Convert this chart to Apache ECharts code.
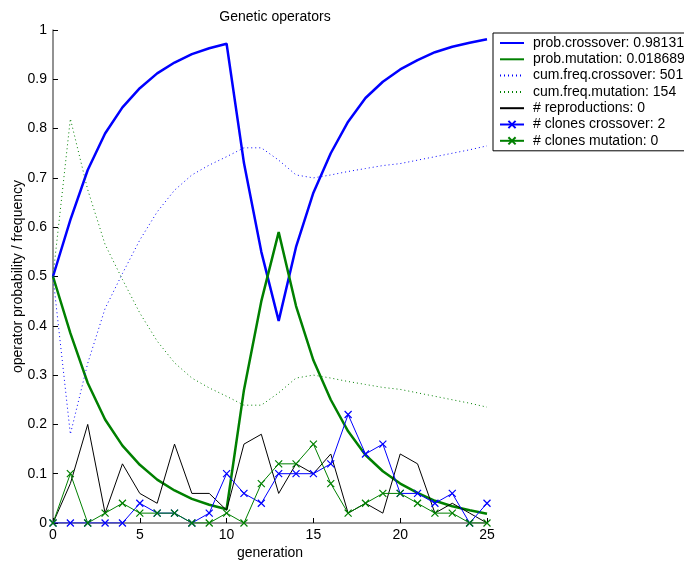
<!DOCTYPE html>
<html>
<head>
<meta charset="utf-8">
<script src="https://cdn.jsdelivr.net/npm/echarts@6/dist/echarts.min.js"></script>
<style>html,body{margin:0;padding:0;background:#fff;}#c{width:684px;height:564px;}</style>
</head>
<body>
<div id="c"></div>
<script>
var generations = [0,1,2,3,4,5,6,7,8,9,10,11,12,13,14,15,16,17,18,19,20,21,22,23,24,25];
var probCrossover = [0.5,0.615,0.716,0.79,0.843,0.882,0.912,0.934,0.951,0.963,0.972,0.73,0.55,0.41,0.56,0.67,0.75,0.814,0.862,0.895,0.92,0.939,0.955,0.966,0.974,0.98131];
var probMutation = [0.5,0.385,0.284,0.21,0.157,0.118,0.088,0.066,0.049,0.037,0.028,0.27,0.45,0.59,0.44,0.33,0.25,0.186,0.138,0.105,0.08,0.061,0.045,0.034,0.026,0.018689];
var cumFreqCrossover = [0.5,0.18,0.324,0.435,0.506,0.574,0.631,0.675,0.706,0.726,0.743,0.761,0.761,0.736,0.706,0.70,0.706,0.713,0.719,0.725,0.729,0.736,0.743,0.75,0.757,0.765];
var cumFreqMutation = [0.5,0.82,0.676,0.565,0.494,0.426,0.369,0.325,0.294,0.274,0.257,0.239,0.239,0.264,0.294,0.30,0.294,0.287,0.281,0.275,0.271,0.264,0.257,0.25,0.243,0.235];
var reproductions = [0,0.08,0.2,0.02,0.12,0.06,0.04,0.16,0.06,0.06,0.026,0.16,0.18,0.06,0.12,0.10,0.14,0.02,0.04,0.02,0.14,0.12,0.02,0.04,0.02,0];
var clonesCrossover = [0,0,0,0,0,0.04,0.02,0.02,0,0.02,0.1,0.06,0.04,0.1,0.1,0.1,0.12,0.22,0.14,0.16,0.06,0.06,0.04,0.06,0,0.04];
var clonesMutation = [0,0.1,0,0.02,0.04,0.02,0.02,0.02,0,0,0.02,0,0.08,0.12,0.12,0.16,0.08,0.02,0.04,0.06,0.06,0.04,0.02,0.02,0,0];
var seriesNames = ['prob.crossover: 0.98131','prob.mutation: 0.018689','cum.freq.crossover: 501','cum.freq.mutation: 154','# reproductions: 0','# clones crossover: 2','# clones mutation: 0'];
var xTicks = [0,5,10,15,20,25];

function pairs(v){ return generations.map(function(g,i){ return [g, v[i]]; }); }
var BLUE = '#0000ff', GREEN = '#008000', BLACK = '#000000';
var FONT = 'Liberation Sans, Arial, Helvetica, sans-serif';
var xSym = 'path://M0,0L10,10M10,0L0,10';
var markerSeries = [false,false,false,false,false,true,true];

function lineSeries(name, data, color, width, dash, marker){
  var s = {
    name: name, type: 'line', data: pairs(data),
    lineStyle: {color: color, width: width, type: dash || 'solid'},
    itemStyle: {color: color},
    animation: false, silent: true
  };
  if (marker) {
    s.symbol = xSym; s.symbolSize = 7; s.showSymbol = true;
    s.itemStyle = {color: 'none', borderColor: color, borderWidth: 1.2};
  } else {
    s.symbol = 'none'; s.showSymbol = false;
  }
  return s;
}

var legendData = seriesNames.map(function(n, i){
  if (markerSeries[i]) return {name: n};
  return {name: n, itemStyle: {color: 'rgba(0,0,0,0)', borderWidth: 0, opacity: 0}};
});

var chart = echarts.init(document.getElementById('c'), null, {renderer: 'canvas'});
chart.setOption({
  backgroundColor: '#ffffff',
  animation: false,
  title: {
    text: 'Genetic operators', left: 270, top: 5, textAlign: 'center',
    textStyle: {fontFamily: FONT, fontSize: 14, fontWeight: 'normal', color: '#000'}
  },
  grid: {left: 53, right: 197, top: 30, bottom: 41, containLabel: false, outerBoundsMode: 'none'},
  legend: {
    orient: 'vertical', left: 493, top: 33,
    data: legendData,
    backgroundColor: '#fff', borderColor: '#000', borderWidth: 1,
    padding: [3, 4, 3, 6],
    itemWidth: 24, itemHeight: 9, itemGap: 2.3,
    textStyle: {fontFamily: FONT, fontSize: 14, lineHeight: 14, color: '#000', padding: [0,0,0,4]},
    selectedMode: false
  },
  xAxis: {
    type: 'value', min: 0, max: 25, interval: 5,
    name: 'generation', nameLocation: 'middle', nameGap: 23, nameMoveOverlap: false,
    nameTextStyle: {fontFamily: FONT, fontSize: 14, color: '#000'},
    axisLine: {show: true, onZero: false, lineStyle: {color: '#6e6e6e', width: 1.5}},
    axisTick: {show: true, inside: true, length: 5, lineStyle: {color: '#000'}},
    axisLabel: {fontFamily: FONT, fontSize: 14, color: '#000', margin: 5,
      formatter: function(v){ return xTicks.indexOf(v) >= 0 ? String(v) : ''; }},
    splitLine: {show: false}
  },
  yAxis: {
    type: 'value', min: 0, max: 1, interval: 0.1,
    name: 'operator probability / frequency', nameLocation: 'middle', nameGap: 28, nameMoveOverlap: false,
    nameTextStyle: {fontFamily: FONT, fontSize: 14, color: '#000'},
    axisLine: {show: true, onZero: false, lineStyle: {color: '#6e6e6e', width: 1.5}},
    axisTick: {show: true, inside: true, length: 5, lineStyle: {color: '#000'}},
    axisLabel: {fontFamily: FONT, fontSize: 14, color: '#000', margin: 6},
    splitLine: {show: false}
  },
  series: [
    lineSeries(seriesNames[0], probCrossover, BLUE, 2.5),
    lineSeries(seriesNames[1], probMutation, GREEN, 2.5),
    lineSeries(seriesNames[2], cumFreqCrossover, BLUE, 1, [1,3]),
    lineSeries(seriesNames[3], cumFreqMutation, GREEN, 1, [1,3]),
    lineSeries(seriesNames[4], reproductions, BLACK, 1),
    lineSeries(seriesNames[5], clonesCrossover, BLUE, 1, null, true),
    lineSeries(seriesNames[6], clonesMutation, GREEN, 1, null, true)
  ]
});
</script>
</body>
</html>
